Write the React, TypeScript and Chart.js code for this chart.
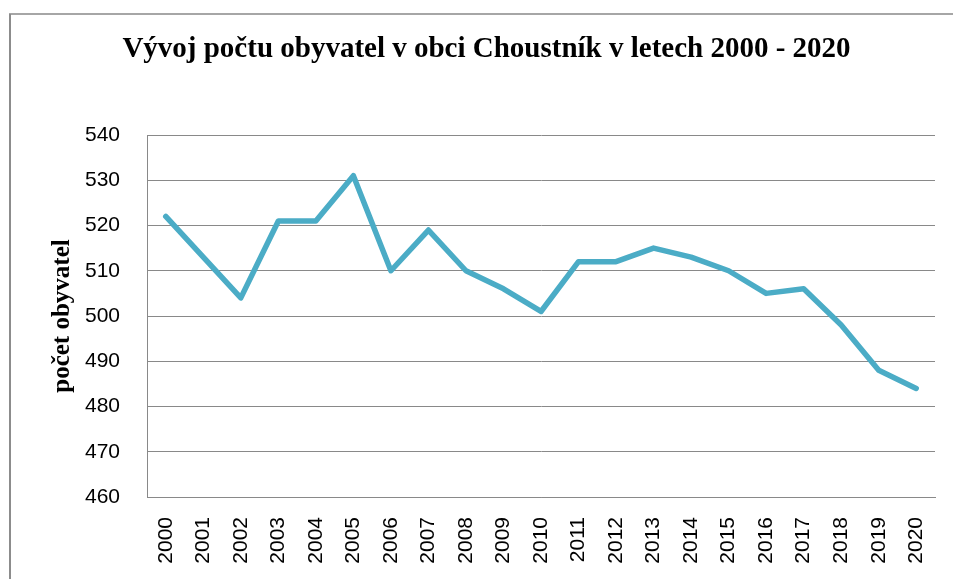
import React, { useEffect, useRef } from "react";
import { Chart, registerables } from "chart.js";

Chart.register(...registerables);

const titleText = "Vývoj počtu obyvatel v obci Choustník v letech 2000 - 2020";
const yAxisTitle = "počet obyvatel";
const years = [
  "2000", "2001", "2002", "2003", "2004", "2005", "2006", "2007", "2008", "2009", "2010",
  "2011", "2012", "2013", "2014", "2015", "2016", "2017", "2018", "2019", "2020",
];
const population = [
  522, 513, 504, 521, 521, 531, 510, 519, 510, 506, 501,
  512, 512, 515, 513, 510, 505, 506, 498, 488, 484,
];
const yMin = 460;
const yMax = 540;
const yStep = 10;

const framePlugin = {
  id: "frame",
  beforeDraw(chart: any) {
    const ctx = chart.ctx;
    ctx.save();
    ctx.fillStyle = "#ffffff";
    ctx.fillRect(0, 0, chart.width, chart.height);
    ctx.lineWidth = 2;
    ctx.strokeStyle = "#a6a6a6";
    ctx.beginPath();
    ctx.moveTo(9, 14);
    ctx.lineTo(chart.width, 14);
    ctx.stroke();
    ctx.strokeStyle = "#8c8c8c";
    ctx.beginPath();
    ctx.moveTo(10, 14);
    ctx.lineTo(10, chart.height);
    ctx.stroke();
    ctx.restore();
  },
};

export default function App() {
  const ref = useRef<HTMLCanvasElement | null>(null);

  useEffect(() => {
    if (!ref.current) return;
    const chart = new Chart(ref.current, {
      type: "line",
      data: {
        labels: years,
        datasets: [
          {
            data: population,
            borderColor: "#4bacc6",
            backgroundColor: "#4bacc6",
            borderWidth: 5.5,
            pointRadius: 0,
            borderJoinStyle: "round",
            borderCapStyle: "round",
            tension: 0,
          },
        ],
      },
      options: {
        responsive: false,
        animation: false,
        layout: { padding: { left: 38, top: 14, right: 18, bottom: 0 } },
        plugins: {
          legend: { display: false },
          tooltip: { enabled: false },
          title: {
            display: true,
            text: titleText,
            color: "#000000",
            font: { family: "'Liberation Serif', 'Times New Roman', serif", size: 29, weight: "bold" },
            padding: { top: 18.6, bottom: 67.6 },
          },
        },
        scales: {
          x: {
            offset: true,
            grid: { display: false, drawTicks: false },
            border: { display: true, color: "#898989", width: 1 },
            ticks: {
              color: "#000000",
              minRotation: 90,
              maxRotation: 90,
              autoSkip: false,
              padding: 20,
              font: { family: "'Liberation Sans', Arial, sans-serif", size: 21 },
            },
            afterFit(scale: any) {
              scale.height = 82;
              scale.paddingLeft = 0;
              scale.paddingRight = 0;
            },
          },
          y: {
            min: yMin,
            max: yMax,
            grid: { color: "#898989", lineWidth: 1, drawTicks: false },
            border: { display: true, color: "#898989", width: 1 },
            ticks: {
              stepSize: yStep,
              color: "#000000",
              padding: 27,
              font: { family: "'Liberation Sans', Arial, sans-serif", size: 21 },
            },
            title: {
              display: true,
              text: yAxisTitle,
              color: "#000000",
              padding: { top: 10, bottom: 0 },
              font: { family: "'Liberation Serif', 'Times New Roman', serif", size: 25, weight: "bold" },
            },
            afterFit(scale: any) {
              scale.width = 109;
              scale.paddingTop = 0;
              scale.paddingBottom = 0;
            },
          },
        },
      },
      plugins: [framePlugin],
    });
    return () => chart.destroy();
  }, []);

  return (
    <div style={{ position: "fixed", left: 0, top: 0, width: 953, height: 579, background: "#fff" }}>
      <canvas ref={ref} width={953} height={579} />
    </div>
  );
}
